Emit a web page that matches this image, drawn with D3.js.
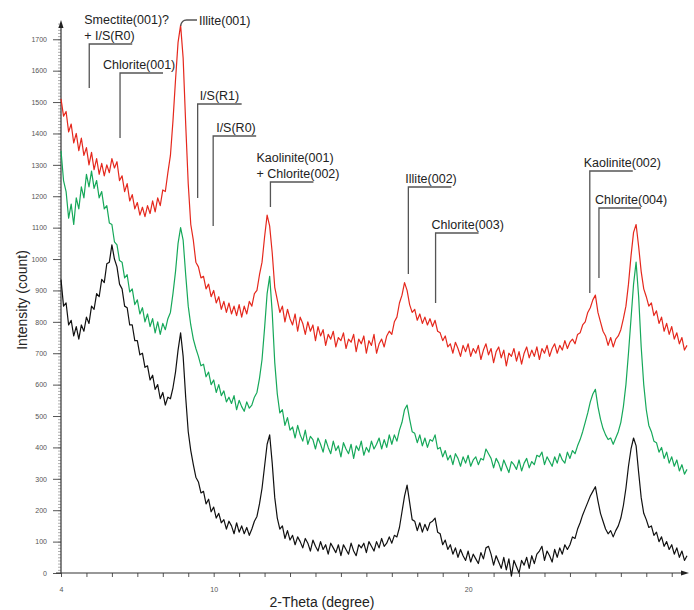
<!DOCTYPE html>
<html>
<head>
<meta charset="utf-8">
<script src="https://cdn.jsdelivr.net/npm/d3@7/dist/d3.min.js"></script>
<style>
  body { margin: 0; background: #fff; }
  svg { font-family: "Liberation Sans", Arial, sans-serif; }
  .tick text { fill: #555; font-size: 7px; }
  .ann text { font-size: 12.5px; fill: #222; }
</style>
</head>
<body>
<svg id="chart" width="694" height="610"></svg>
<script>
// scan: 4.0 to 28.6 degrees 2-theta, one reading every 0.1 degree
var scanStart = 4.0, scanStep = 0.1;

var redCounts = [
 1510,1455,1470,1405,1430,1370,1400,1345,1385,1330,
 1355,1300,1340,1285,1320,1270,1305,1265,1300,1275,
 1320,1290,1310,1250,1265,1215,1240,1185,1205,1160,
 1180,1140,1165,1135,1170,1145,1185,1150,1195,1170,
 1220,1215,1275,1330,1440,1570,1690,1745,1640,1430,
 1240,1110,1060,990,975,940,945,905,920,880,
 900,860,880,840,865,830,860,825,850,820,
 855,815,850,825,865,850,890,900,950,990,
 1070,1140,1105,1020,910,870,830,850,800,840,
 810,790,825,770,815,795,760,800,770,790,
 740,785,755,775,725,760,745,770,720,750,
 740,765,715,745,735,760,705,745,730,755,
 700,740,725,760,700,730,745,720,755,770,
 760,800,815,860,885,925,900,855,830,840,
 805,825,795,815,790,810,785,805,770,765,
 740,755,720,730,700,735,715,690,725,705,
 730,690,715,700,725,680,710,730,695,715,
 670,705,720,685,710,660,700,690,715,675,
 705,665,700,720,685,710,690,720,680,715,
 700,725,690,715,730,700,725,710,740,715,
 735,745,730,760,765,790,800,830,845,870,
 885,830,800,770,755,725,750,720,745,755,
 775,810,850,920,1010,1085,1110,1040,960,905,
 880,850,860,820,835,795,815,770,795,760,
 785,745,765,730,750,710,725
];

var greenCounts = [
 1345,1250,1215,1130,1175,1110,1195,1160,1230,1195,
 1270,1230,1280,1225,1250,1195,1215,1160,1170,1115,
 1110,1055,1045,995,990,940,950,895,905,855,
 870,825,845,800,825,785,810,765,800,760,
 795,775,810,830,890,960,1050,1100,1060,950,
 850,790,745,715,690,660,665,625,640,600,
 615,575,600,565,580,545,560,540,565,520,
 550,530,515,545,525,535,560,575,620,680,
 780,890,945,830,670,570,510,520,470,495,
 455,465,430,470,440,420,455,410,435,425,
 395,430,410,385,425,400,380,420,390,405,
 370,415,395,380,410,365,405,390,420,375,
 400,385,420,395,410,430,395,425,400,440,
 410,440,420,455,480,520,535,490,450,445,
 415,440,405,430,400,425,420,440,395,400,
 370,390,360,375,345,380,365,340,370,350,
 375,340,360,370,345,365,360,395,380,365,
 335,365,350,325,360,340,320,355,345,330,
 360,325,350,365,335,355,345,375,370,385,
 345,370,355,340,370,350,380,360,350,385,
 365,390,380,405,425,450,480,510,545,570,
 585,530,490,460,440,425,430,410,430,450,
 480,530,600,700,810,920,990,880,720,600,
 520,470,450,420,415,385,400,365,385,350,
 370,340,360,325,345,315,330
];

var blackCounts = [
 935,850,860,790,805,755,785,745,790,770,
 815,795,850,840,890,880,935,925,985,990,
 1045,1000,975,920,905,850,845,790,790,740,
 740,695,700,655,660,615,630,585,600,555,
 575,535,560,555,590,640,710,765,690,560,
 450,390,345,305,290,255,260,220,235,195,
 210,175,190,160,170,140,165,150,125,160,
 130,150,125,145,120,140,165,180,220,270,
 340,410,440,350,240,175,140,150,110,135,
 105,120,90,115,100,80,110,95,70,105,
 85,70,100,75,90,60,95,80,65,90,
 55,90,75,60,95,70,55,90,80,95,
 65,100,85,70,100,80,110,85,95,115,
 95,120,115,145,195,245,280,225,170,165,
 135,160,130,155,135,160,165,175,130,125,
 90,105,75,90,60,80,50,75,55,40,
 70,35,60,45,30,65,45,80,85,60,
 25,55,35,15,50,10,45,-10,40,20,
 0,40,25,50,15,55,30,60,70,85,
 40,70,55,35,75,50,80,60,90,75,
 90,115,110,140,160,185,205,225,245,260,
 275,230,190,165,140,125,135,115,135,150,
 175,215,270,340,395,430,405,320,240,190,
 170,145,150,120,130,100,115,85,100,75,
 90,60,80,50,70,40,55
];

var yTicks = d3.range(0, 1701, 100);
var xTickLabels = [4, 10, 20];

// peak labels: position (2-theta), label lines, top of bracket and bottom of leader (px)
var peakLabels = [
  { t: 5.11,  lines: ["Smectite(001)?", "+ I/S(R0)"], top: 44,  bottom: 88,  len: 43, dx: -5 },
  { t: 6.32,  lines: ["Chlorite(001)"],               top: 73,  bottom: 138, len: 43, dx: -17 },
  { t: 9.37,  lines: ["I/S(R1)"],                     top: 104, bottom: 198, len: 44, dx: 2 },
  { t: 9.98,  lines: ["I/S(R0)"],                     top: 136, bottom: 226, len: 43, dx: 3 },
  { t: 12.23, lines: ["Kaolinite(001)", "+ Chlorite(002)"], top: 182, bottom: 207, len: 43, dx: -14 },
  { t: 17.65, lines: ["Illite(002)"],                 top: 187, bottom: 274, len: 43, dx: -3 },
  { t: 18.72, lines: ["Chlorite(003)"],               top: 233, bottom: 303, len: 43, dx: -4 },
  { t: 24.78, lines: ["Kaolinite(002)"],              top: 171, bottom: 293, len: 43, dx: -6 },
  { t: 25.14, lines: ["Chlorite(004)"],               top: 208, bottom: 278, len: 42, dx: -4 }
];

var svg = d3.select("#chart");
var x = d3.scaleLinear().domain([4, 28.6]).range([61, 687]);
var y = d3.scaleLinear().domain([0, 1755]).range([573, 22]);

function series(vals) {
  return vals.map(function(v, i) { return [scanStart + i * scanStep, v]; });
}

var line = d3.line()
  .x(function(d) { return x(d[0]); })
  .y(function(d) { return y(d[1]); });

// y axis: minor ticks every 10 counts, labelled every 100
svg.append("g")
  .attr("transform", "translate(61,0)")
  .call(d3.axisLeft(y).tickValues(d3.range(0, 1751, 10)).tickSize(3).tickFormat(""))
  .call(function(g) { g.select(".domain").remove(); })
  .selectAll("line").attr("stroke", "#777").attr("stroke-width", 0.6);

var yAxis = svg.append("g")
  .attr("transform", "translate(61,0)")
  .call(d3.axisLeft(y).tickValues(yTicks).tickSize(8).tickPadding(6).tickFormat(d3.format("d")));
yAxis.select(".domain").remove();
yAxis.selectAll("line").attr("stroke", "#555");

// x axis: a tick every degree, labels at 4, 10, 20
var xAxis = svg.append("g")
  .attr("transform", "translate(0,573)")
  .call(d3.axisBottom(x).tickValues(d3.range(4, 29, 1)).tickSize(4).tickPadding(10)
    .tickFormat(function(d) { return xTickLabels.indexOf(d) >= 0 ? d : ""; }));
xAxis.select(".domain").remove();
xAxis.selectAll("line").attr("stroke", "#555");

// axis lines with arrow heads
svg.append("line").attr("x1", 61).attr("x2", 61).attr("y1", 573).attr("y2", 24)
  .attr("stroke", "#333").attr("stroke-width", 1.2);
svg.append("path").attr("d", "M61,20 L58.5,28 L63.5,28 Z").attr("fill", "#222");
svg.append("line").attr("x1", 56).attr("x2", 684).attr("y1", 573).attr("y2", 573)
  .attr("stroke", "#333").attr("stroke-width", 1.2);
svg.append("path").attr("d", "M689,573 L681,570.5 L681,575.5 Z").attr("fill", "#222");

// traces
[[redCounts, "#e5281d"], [greenCounts, "#16a85a"], [blackCounts, "#111"]].forEach(function(s) {
  svg.append("path")
    .datum(series(s[0]))
    .attr("fill", "none")
    .attr("stroke", s[1])
    .attr("stroke-width", 1.2)
    .attr("stroke-linejoin", "round")
    .attr("d", line);
});

// peak annotations
var ann = svg.append("g").attr("class", "ann");
peakLabels.forEach(function(p) {
  var px = x(p.t);
  ann.append("path")
    .attr("d", "M" + px + "," + p.bottom + " V" + p.top + " H" + (px + p.len))
    .attr("fill", "none").attr("stroke", "#555").attr("stroke-width", 1.3);
  p.lines.forEach(function(txt, i) {
    ann.append("text")
      .attr("x", px + p.dx)
      .attr("y", p.top - 4 - (p.lines.length - 1 - i) * 16)
      .text(txt);
  });
});

// Illite(001) hook from the peak top
ann.append("path")
  .attr("d", "M" + x(8.7) + ",26 Q" + (x(8.7) + 1) + ",20 " + (x(8.7) + 6) + ",20 H197")
  .attr("fill", "none").attr("stroke", "#555").attr("stroke-width", 1.3);
ann.append("text").attr("x", 199).attr("y", 25).text("Illite(001)");

// axis titles
svg.append("text")
  .attr("transform", "translate(27,300) rotate(-90)")
  .attr("text-anchor", "middle")
  .attr("font-size", 14).attr("fill", "#222")
  .text("Intensity (count)");
svg.append("text")
  .attr("x", 322).attr("y", 607)
  .attr("text-anchor", "middle")
  .attr("font-size", 14).attr("fill", "#222")
  .text("2-Theta (degree)");
</script>
</body>
</html>
